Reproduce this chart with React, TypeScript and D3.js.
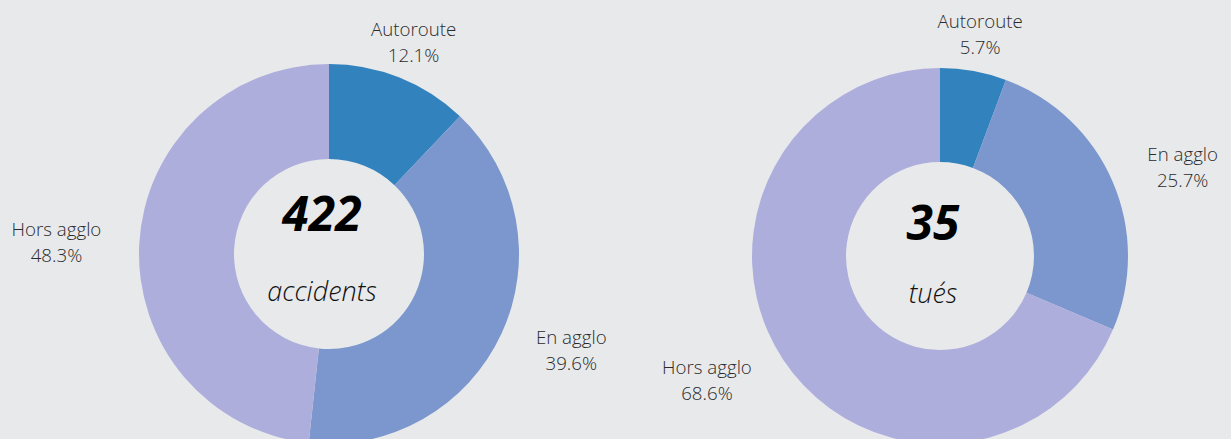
import React, {useEffect, useRef} from 'react';
import * as d3 from 'd3';

const categories = ['Autoroute', 'En agglo', 'Hors agglo'];
const accidentsShare = [12.1, 39.6, 48.3];
const tuesShare = [5.7, 25.7, 68.6];
const totals = [422, 35];
const units = ['accidents', 'tués'];
const colors = ['#3182bd', '#7b97cd', '#aeaedd'];

const WIDTH = 1231;
const HEIGHT = 439;

type Donut = {
  values: number[];
  total: number;
  unit: string;
  cx: number;
  cy: number;
  outer: number;
  inner: number;
  numberDy: number;
};

const donuts: Donut[] = [
  {values: accidentsShare, total: totals[0], unit: units[0], cx: 329, cy: 254, outer: 190, inner: 95, numberDy: -23},
  {values: tuesShare, total: totals[1], unit: units[1], cx: 940, cy: 256, outer: 188, inner: 94, numberDy: -16},
];

const App: React.FC = () => {
  const ref = useRef<SVGSVGElement>(null);

  useEffect(() => {
    document.body.style.margin = '0';
    document.body.style.background = '#e8e9eb';

    const svg = d3.select(ref.current);
    svg.selectAll('*').remove();

    svg.append('rect')
      .attr('width', WIDTH)
      .attr('height', HEIGHT)
      .attr('fill', '#e8e9eb');

    const color = d3.scaleOrdinal<string, string>().domain(categories).range(colors);

    for (const donut of donuts) {
      const data = categories.map((c, i) => ({label: c, value: donut.values[i]}));
      const pie = d3.pie<{label: string; value: number}>().sort(null).value(d => d.value);
      const arcs = pie(data);

      const arc = d3.arc<d3.PieArcDatum<{label: string; value: number}>>()
        .innerRadius(donut.inner)
        .outerRadius(donut.outer);

      const labelR = donut.outer * 1.2;

      const g = svg.append('g').attr('transform', `translate(${donut.cx},${donut.cy})`);

      g.selectAll('path')
        .data(arcs)
        .join('path')
        .attr('fill', d => color(d.data.label))
        .attr('d', arc);

      // labels outside the ring, block anchored by side, lines centred in the block
      const labels = g.append('g')
        .attr('font-family', '"Open Sans", sans-serif')
        .attr('font-weight', 300)
        .attr('font-size', 18.7)
        .attr('fill', '#2b2b2b')
        .selectAll('text')
        .data(arcs)
        .join('text')
        .attr('text-anchor', 'middle')
        .attr('transform', d => {
          const a = (d.startAngle + d.endAngle) / 2;
          return `translate(${Math.sin(a) * labelR},${-Math.cos(a) * labelR})`;
        });

      labels.append('tspan')
        .attr('y', -6)
        .text(d => d.data.label);
      labels.append('tspan')
        .attr('y', 20)
        .text(d => `${d.data.value.toFixed(1)}%`);

      labels.each(function (d) {
        const t = d3.select(this);
        const spans = t.selectAll<SVGTSpanElement, unknown>('tspan').nodes();
        const w = d3.max(spans, s => s.getComputedTextLength()) ?? 0;
        const s = Math.sin((d.startAngle + d.endAngle) / 2);
        const x = s > 0.5 ? w / 2 : s < -0.5 ? -w / 2 : 0;
        t.selectAll('tspan').attr('x', x);
      });

      // centre text
      g.append('text')
        .attr('x', -7)
        .attr('y', donut.numberDy)
        .attr('text-anchor', 'middle')
        .attr('font-family', '"Open Sans", sans-serif')
        .attr('font-weight', 700)
        .attr('font-style', 'italic')
        .attr('font-size', 48)
        .attr('fill', '#000')
        .text(donut.total);

      g.append('text')
        .attr('x', -7)
        .attr('y', 47)
        .attr('text-anchor', 'middle')
        .attr('font-family', '"Open Sans", sans-serif')
        .attr('font-weight', 300)
        .attr('font-style', 'italic')
        .attr('font-size', 27)
        .attr('fill', '#111')
        .text(donut.unit);
    }
  }, []);

  return <svg ref={ref} width={WIDTH} height={HEIGHT} style={{display: 'block'}}/>;
};

export default App;
